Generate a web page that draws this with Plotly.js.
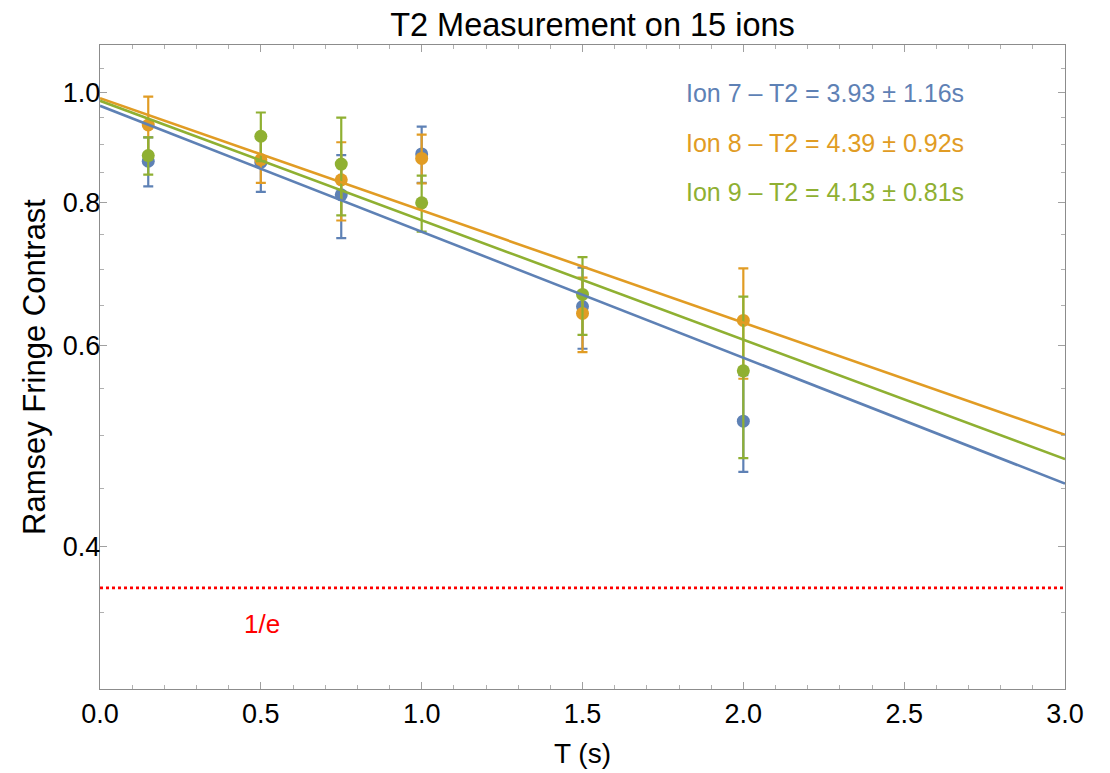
<!DOCTYPE html>
<html>
<head>
<meta charset="utf-8">
<script src="https://cdn.plot.ly/plotly-3.0.1.min.js"></script>
<style>
html,body{margin:0;padding:0;background:#fff;}
#chart{width:1110px;height:773px;}
</style>
</head>
<body>
<div id="chart"></div>
<script>
// ---- data ----
const times = [0.15, 0.5, 0.75, 1.0, 1.5, 2.0];

const ion7 = [0.870, 0.868, 0.813, 0.883, 0.649, 0.515];
const ion7Err = [0.043, 0.050, 0.068, 0.050, 0.053, 0.050];

const ion8 = [0.936, 0.873, 0.838, 0.875, 0.640, 0.631];
const ion8Err = [0.055, 0.040, 0.066, 0.043, 0.048, 0.070];

const ion9 = [0.880, 0.915, 0.865, 0.800, 0.665, 0.570];
const ion9Err = [0.033, 0.045, 0.085, 0.045, 0.052, 0.092];

// fitted exponential decays (straight on the log axis), end points
const fitT = [0, 3];
const fit7 = [0.973, 0.454];
const fit8 = [0.988, 0.501];
const fit9 = [0.983, 0.477];

const eLineT = [0, 3];
const eLineV = [0.3679, 0.3679];

const seriesLabels = [
  "Ion 7 \u2013 T2 = 3.93 \u00b1 1.16s",
  "Ion 8 \u2013 T2 = 4.39 \u00b1 0.92s",
  "Ion 9 \u2013 T2 = 4.13 \u00b1 0.81s"
];

const yTickVals = [0.4, 0.6, 0.8, 1.0];
const yTickText = ["0.4", "0.6", "0.8", "1.0"];
const yMinorVals = [0.35, 0.45, 0.5, 0.55, 0.65, 0.7, 0.75, 0.85, 0.9, 0.95, 1.05];
const xTickVals = [0, 0.5, 1.0, 1.5, 2.0, 2.5, 3.0];
const xTickText = ["0.0", "0.5", "1.0", "1.5", "2.0", "2.5", "3.0"];

// ---- styles ----
const BLUE = "#5E81B5", ORANGE = "#E19C24", GREEN = "#8FB032";
const FONT = "Liberation Sans, Arial, Helvetica, sans-serif";

function pts(y, err, color, name) {
  return {
    x: times, y: y, type: "scatter", mode: "markers", name: name,
    marker: {color: color, size: 13},
    error_y: {type: "data", array: err, visible: true, color: color, thickness: 2.2, width: 5},
    showlegend: false, hoverinfo: "x+y"
  };
}
function fit(y, color, name) {
  return {
    x: fitT, y: y, type: "scatter", mode: "lines", name: name,
    line: {color: color, width: 2.6}, showlegend: false
  };
}

const data = [
  pts(ion7, ion7Err, BLUE, "Ion 7"),
  pts(ion8, ion8Err, ORANGE, "Ion 8"),
  pts(ion9, ion9Err, GREEN, "Ion 9"),
  fit(fit7, BLUE, "Ion 7 fit"),
  fit(fit8, ORANGE, "Ion 8 fit"),
  fit(fit9, GREEN, "Ion 9 fit"),
  {x: eLineT, y: eLineV, type: "scatter", mode: "lines", name: "1/e",
   line: {color: "#FF0000", width: 2.6, dash: "3px,3px"}, showlegend: false}
];

const axisCommon = {
  showline: true, linecolor: "#8c8c8c", linewidth: 1.2, mirror: "ticks",
  ticks: "inside", ticklen: 7, tickwidth: 1, tickcolor: "#a0a0a0",
  showgrid: false, zeroline: false,
  tickfont: {family: FONT, size: 27, color: "#000"}
};

const layout = {
  width: 1110, height: 773,
  margin: {l: 100, r: 45, t: 45, b: 84},
  paper_bgcolor: "#fff", plot_bgcolor: "#fff",
  font: {family: FONT},
  title: {
    text: "T2 Measurement on 15 ions",
    font: {family: FONT, size: 32.5, color: "#000"},
    x: 0.5 + 10 / 965, xref: "paper", xanchor: "center",
    y: 1 - 25 / 773, yref: "container", yanchor: "middle"
  },
  xaxis: Object.assign({}, axisCommon, {
    range: [0, 3],
    tickmode: "array", tickvals: xTickVals, ticktext: xTickText,
    minor: {dtick: 0.1, tick0: 0, ticks: "inside", ticklen: 4, tickcolor: "#b0b0b0", showgrid: false},
    title: {text: "T (s)", font: {family: FONT, size: 28, color: "#000"}, standoff: 15}
  }),
  yaxis: Object.assign({}, axisCommon, {
    type: "log",
    range: [Math.log10(0.3), Math.log10(1.1)],
    tickmode: "array", tickvals: yTickVals, ticktext: yTickText,
    ticklabelposition: "outside",
    ticklabelstandoff: -7,
    minor: {tickmode: "array", tickvals: yMinorVals, ticks: "inside", ticklen: 4, tickcolor: "#b0b0b0", showgrid: false},
    title: {text: "Ramsey Fringe Contrast", font: {family: FONT, size: 31, color: "#000"}, standoff: 8}
  }),
  annotations: [
    {text: seriesLabels[0], xref: "paper", yref: "paper", x: (684 - 100) / 965, y: 1 - (92.7 - 45) / 644,
     xanchor: "left", yanchor: "middle", showarrow: false, font: {family: FONT, size: 25, color: BLUE}},
    {text: seriesLabels[1], xref: "paper", yref: "paper", x: (684 - 100) / 965, y: 1 - (142.7 - 45) / 644,
     xanchor: "left", yanchor: "middle", showarrow: false, font: {family: FONT, size: 25, color: ORANGE}},
    {text: seriesLabels[2], xref: "paper", yref: "paper", x: (684 - 100) / 965, y: 1 - (191.7 - 45) / 644,
     xanchor: "left", yanchor: "middle", showarrow: false, font: {family: FONT, size: 25, color: GREEN}},
    {text: "1/e", xref: "paper", yref: "paper", x: (261.5 - 100) / 965, y: 1 - (624 - 45) / 644,
     xanchor: "center", yanchor: "middle", showarrow: false, font: {family: FONT, size: 26, color: "#FF0000"}}
  ]
};

Plotly.newPlot("chart", data, layout, {displayModeBar: false, staticPlot: true});
</script>
</body>
</html>
